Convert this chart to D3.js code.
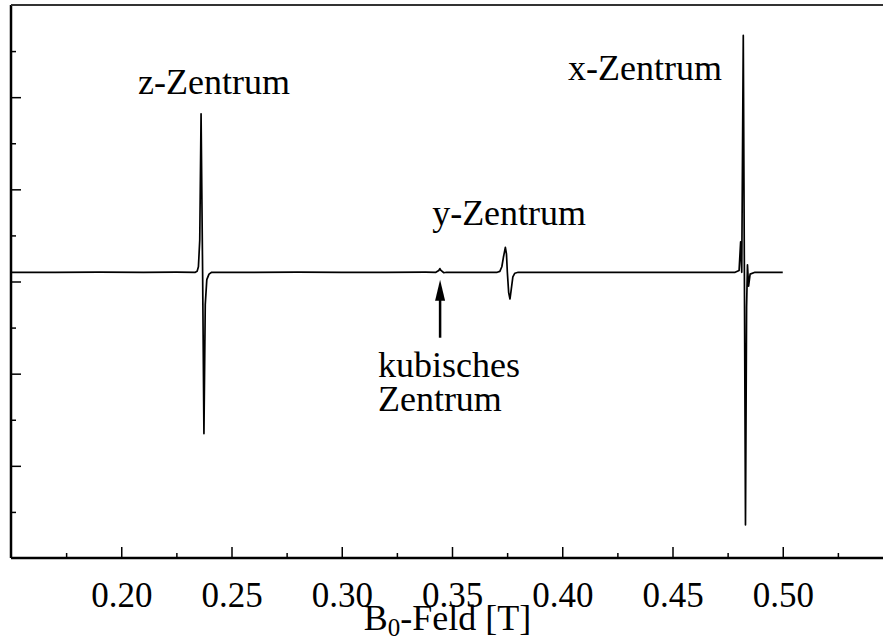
<!DOCTYPE html>
<html>
<head>
<meta charset="utf-8">
<script src="https://cdn.jsdelivr.net/npm/d3@7"></script>
<style>
  body { margin: 0; background: #fff; }
  svg { display: block; font-family: "Liberation Serif", "Times New Roman", serif; }
</style>
</head>
<body>
<div id="plot"></div>
<script>
// spectrum trace: [B field in T, signal in arbitrary units]
var spectrum = [
  [0.150, 0.100], [0.170, 0.098], [0.190, 0.102], [0.210, 0.099], [0.225, 0.101],
  [0.2336, 0.100], [0.2344, 0.110], [0.2350, 0.160], [0.2356, 0.450], [0.2362, 1.820],
  [0.2369, 0.100], [0.2375, -1.650], [0.2381, -0.250], [0.2388, 0.020], [0.2398, 0.080],
  [0.2410, 0.100], [0.260, 0.099], [0.280, 0.101], [0.300, 0.100], [0.320, 0.099],
  [0.338, 0.101], [0.3427, 0.100], [0.3440, 0.120], [0.3445, 0.140], [0.3450, 0.120],
  [0.3463, 0.095], [0.3475, 0.100], [0.355, 0.100], [0.3705, 0.100], [0.3717, 0.110],
  [0.3726, 0.160], [0.3733, 0.260], [0.3742, 0.370], [0.3747, 0.300], [0.3751, 0.100],
  [0.3757, -0.120], [0.3763, -0.190], [0.3769, -0.080], [0.3776, 0.050], [0.3785, 0.090],
  [0.3800, 0.100], [0.400, 0.100], [0.430, 0.100], [0.460, 0.100], [0.4784, 0.100],
  [0.4802, 0.120], [0.4809, 0.430], [0.4814, 0.100], [0.4821, 2.670], [0.4826, 0.100],
  [0.4831, -2.640], [0.4836, -0.280], [0.4840, 0.180], [0.4845, -0.050], [0.4852, 0.080],
  [0.4874, 0.100], [0.500, 0.100]
];

var xDomain = [0.15, 0.55];
var yDomain = [-3, 3];
var xMajor = [0.20, 0.25, 0.30, 0.35, 0.40, 0.45, 0.50];
var xMinor = [0.175, 0.225, 0.275, 0.325, 0.375, 0.425, 0.475, 0.525];
var yMajor = [-2, -1, 0, 1, 2];
var yMinor = [-2.5, -1.5, -0.5, 0.5, 1.5, 2.5];

// annotation labels: text, B position, signal position (baseline)
var labels = [
  {text: "z-Zentrum", b: 0.2076, v: 2.03},
  {text: "x-Zentrum", b: 0.4026, v: 2.19},
  {text: "y-Zentrum", b: 0.3410, v: 0.61},
  {text: "kubisches", b: 0.3164, v: -1.04},
  {text: "Zentrum", b: 0.3164, v: -1.41}
];
var arrowB = 0.3446, arrowFrom = -0.61, arrowTo = 0.02;

var width = 883, height = 639;

var svg = d3.select("#plot")
  .append("svg")
  .attr("width", width)
  .attr("height", height);

var x = d3.scaleLinear().domain(xDomain).range([11, 893]);
var y = d3.scaleLinear().domain(yDomain).range([558, 5]);

// minor ticks
svg.append("g")
  .attr("transform", "translate(0," + y(-3) + ")")
  .call(d3.axisBottom(x).tickValues(xMinor).tickSize(-5).tickFormat(""))
  .call(g => g.select(".domain").remove());
svg.append("g")
  .attr("transform", "translate(" + x(0.15) + ",0)")
  .call(d3.axisLeft(y).tickValues(yMinor).tickSize(-5).tickFormat(""))
  .call(g => g.select(".domain").remove());

// major ticks
var xAxis = svg.append("g")
  .attr("transform", "translate(0," + y(-3) + ")")
  .call(d3.axisBottom(x).tickValues(xMajor).tickSize(-11).tickSizeOuter(0)
    .tickPadding(24).tickFormat(d3.format(".2f")));
xAxis.attr("font-family", null).attr("font-size", null);
xAxis.select(".domain").remove();
xAxis.selectAll("text").attr("font-size", 35).attr("fill", "#000");

var yAxis = svg.append("g")
  .attr("transform", "translate(" + x(0.15) + ",0)")
  .call(d3.axisLeft(y).tickValues(yMajor).tickSize(-10).tickFormat(""));
yAxis.select(".domain").remove();

svg.selectAll(".tick line").attr("stroke", "#000").attr("stroke-width", 1.5);

// frame
svg.append("line")
  .attr("x1", x(0.15)).attr("x2", x(0.55))
  .attr("y1", y(-3)).attr("y2", y(-3))
  .attr("stroke", "#000").attr("stroke-width", 2.5);
svg.append("line")
  .attr("x1", x(0.15)).attr("x2", x(0.15))
  .attr("y1", y(3)).attr("y2", y(-3))
  .attr("stroke", "#000").attr("stroke-width", 2.5);
svg.append("line")
  .attr("x1", x(0.15)).attr("x2", x(0.55))
  .attr("y1", y(3)).attr("y2", y(3))
  .attr("stroke", "#333").attr("stroke-width", 2);

// spectrum
var line = d3.line().x(d => x(d[0])).y(d => y(d[1]));
svg.append("path")
  .datum(spectrum)
  .attr("d", line)
  .attr("fill", "none")
  .attr("stroke", "#000")
  .attr("stroke-width", 1.7)
  .attr("stroke-linejoin", "round");

// labels
svg.selectAll(".lbl")
  .data(labels)
  .enter()
  .append("text")
  .attr("class", "lbl")
  .attr("x", d => x(d.b))
  .attr("y", d => y(d.v))
  .attr("font-size", 36)
  .text(d => d.text);

// arrow to the cubic centre
svg.append("line")
  .attr("x1", x(arrowB)).attr("x2", x(arrowB))
  .attr("y1", y(arrowFrom)).attr("y2", y(arrowTo) + 18)
  .attr("stroke", "#000").attr("stroke-width", 2.5);
svg.append("path")
  .attr("d", "M" + x(arrowB) + "," + y(arrowTo) +
    " L" + (x(arrowB) - 5) + "," + (y(arrowTo) + 21) +
    " L" + (x(arrowB) + 5) + "," + (y(arrowTo) + 21) + " Z")
  .attr("fill", "#000");

// axis title
var title = svg.append("text")
  .attr("x", x(0.348))
  .attr("y", 630)
  .attr("text-anchor", "middle")
  .attr("font-size", 36);
title.append("tspan").text("B");
title.append("tspan").attr("font-size", 25).attr("dy", 6).text("0");
title.append("tspan").attr("dy", -6).text("-Feld [T]");
</script>
</body>
</html>
